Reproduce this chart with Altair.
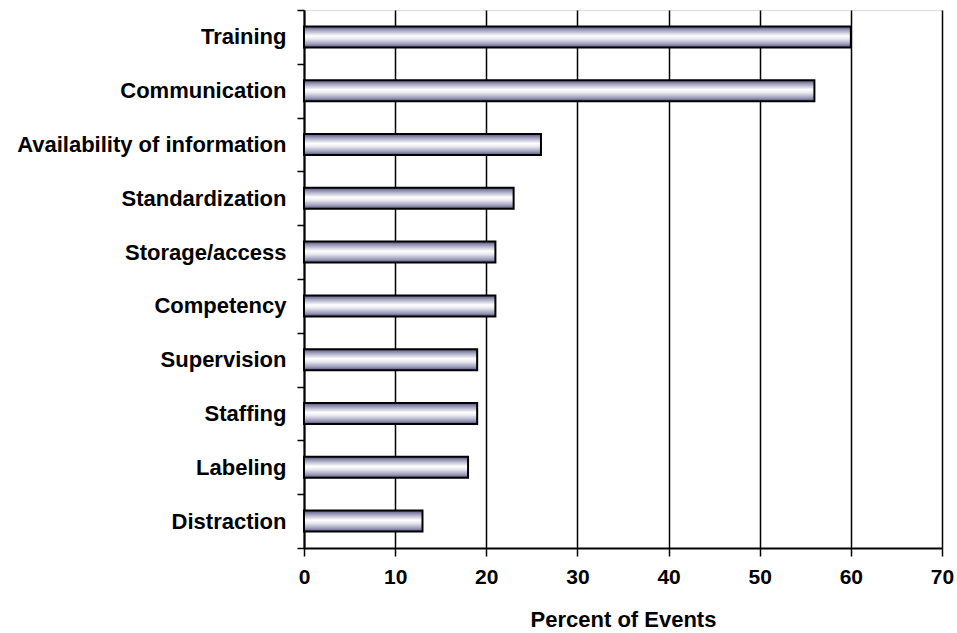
import altair as alt
import pandas as pd

categories = ["Training", "Communication", "Availability of information", "Standardization",
              "Storage/access", "Competency", "Supervision", "Staffing", "Labeling", "Distraction"]
values = [60, 56, 26, 23, 21, 21, 19, 19, 18, 13]

df = pd.DataFrame({"category": categories, "value": values})

FONT = "Liberation Sans"

grad = alt.Gradient(
    gradient="linear",
    stops=[
        alt.GradientStop(color="#55557f", offset=0),
        alt.GradientStop(color="#a8a8c4", offset=0.2),
        alt.GradientStop(color="#ffffff", offset=0.45),
        alt.GradientStop(color="#e8e8f0", offset=0.6),
        alt.GradientStop(color="#9a9ab8", offset=0.85),
        alt.GradientStop(color="#50507a", offset=1),
    ],
    x1=0, x2=0, y1=0, y2=1,
)

chart = alt.Chart(df).mark_bar(
    color=grad, stroke="black", strokeWidth=2, height=alt.RelativeBandSize(0.39)
).encode(
    x=alt.X("value:Q", title="Percent of Events",
            scale=alt.Scale(domain=[0, 70], nice=False),
            axis=alt.Axis(values=[0, 10, 20, 30, 40, 50, 60, 70], grid=True,
                          gridColor="black", gridWidth=1.5, gridOpacity=1,
                          domainColor="black", domainWidth=2,
                          tickColor="black", tickWidth=1.5, tickSize=8,
                          labelFlush=False, labelLimit=0,
                          labelFont=FONT, labelFontSize=21, labelFontWeight="bold",
                          labelColor="black", labelPadding=10,
                          titleFont=FONT, titleFontSize=22, titleFontWeight="bold",
                          titleColor="black", titlePadding=22)),
    y=alt.Y("category:N", sort=categories, title=None,
            scale=alt.Scale(paddingInner=0, paddingOuter=0),
            axis=alt.Axis(tickBand="extent", grid=False,
                          domainColor="black", domainWidth=2,
                          tickColor="black", tickWidth=1.5, tickSize=7,
                          labelLimit=0,
                          labelFont=FONT, labelFontSize=22, labelFontWeight="bold",
                          labelColor="black", labelPadding=11)),
).properties(
    width=638, height=538,
    autosize=alt.AutoSizeParams(type="none"),
    padding={"left": 304, "top": 10, "right": 15, "bottom": 85},
).configure_view(
    stroke="black", strokeWidth=2
).configure(background="white")

chart.save("out.html", embed_options={"renderer": "svg", "actions": False})
